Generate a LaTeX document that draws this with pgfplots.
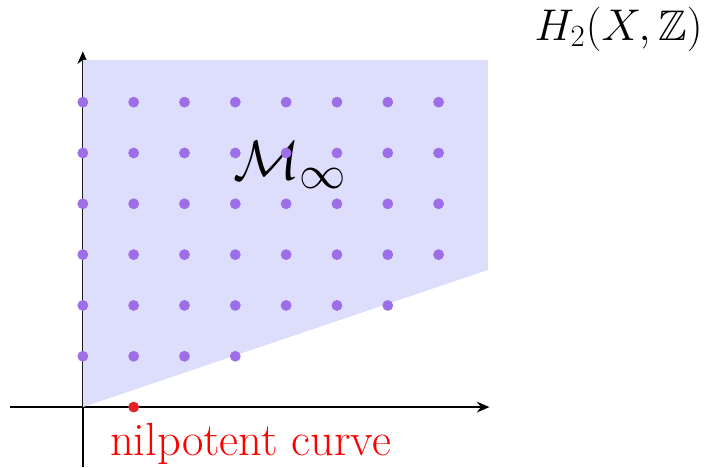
\documentclass[border=0pt]{standalone}
\usepackage{pgfplots}
\pgfplotsset{compat=1.18}
\usetikzlibrary{arrows.meta}
\usepackage{amssymb}
\definecolor{regionfill}{RGB}{221,221,252}
\definecolor{dotcol}{RGB}{158,110,232}
\definecolor{nilred}{RGB}{225,35,35}
\begin{document}
\begin{tikzpicture}
\begin{axis}[
  x=1cm, y=1cm,
  xmin=-1.44, xmax=8.0, ymin=-1.18, ymax=7.0,
  axis lines=middle,
  axis line style={line width=1.5pt, -{Stealth[length=7pt,width=6pt]}},
  ticks=none,
  clip=false,
  enlargelimits=false,
]
\addplot[fill=regionfill, draw=none, forget plot] coordinates {(0,0) (0,6.83) (7.97,6.83) (7.97,2.7)} -- cycle;
\addplot[only marks, mark=*, mark size=2.8pt, color=dotcol, mark options={draw=dotcol, fill=dotcol}] coordinates {
(0,1) (1,1) (2,1) (3,1)
(0,2) (1,2) (2,2) (3,2) (4,2) (5,2) (6,2)
(0,3) (1,3) (2,3) (3,3) (4,3) (5,3) (6,3) (7,3)
(0,4) (1,4) (2,4) (3,4) (4,4) (5,4) (6,4) (7,4)
(0,5) (1,5) (2,5) (3,5) (4,5) (5,5) (6,5) (7,5)
(0,6) (1,6) (2,6) (3,6) (4,6) (5,6) (6,6) (7,6)
};
\addplot[only marks, mark=*, mark size=2.8pt, color=nilred, mark options={draw=nilred, fill=nilred}] coordinates {(1,0)};
\node[anchor=base west, text=red, inner sep=0pt, font=\fontsize{26}{30}\selectfont] at (axis cs:0.53,-0.945) {nilpotent curve};
\node[anchor=base west, inner sep=0pt, scale=1.25, font=\fontsize{24.88}{30}\selectfont] at (axis cs:2.95,4.47) {$\mathcal{M}_\infty$};
\node[anchor=base east, inner sep=0pt, font=\fontsize{24}{28}\selectfont] at (axis cs:12.2,7.22) {$H_2(X,\mathbb{Z})$};
\coordinate (bl) at (axis cs:-1.63,-1.18);
\coordinate (tr) at (axis cs:12.36,8.01);
\end{axis}
\pgfresetboundingbox
\useasboundingbox (bl) rectangle (tr);
\end{tikzpicture}
\end{document}
